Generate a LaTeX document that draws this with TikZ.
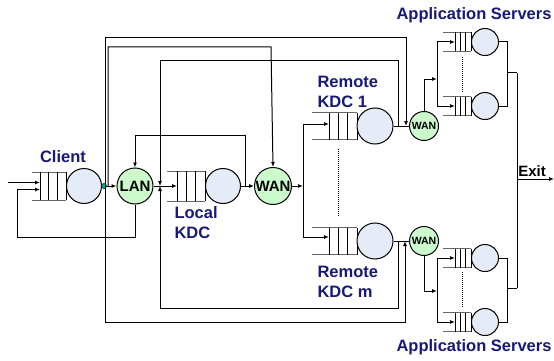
\documentclass[tikz,border=0pt]{standalone}
\usepackage{fontspec}
\setmainfont{Liberation Sans}
\usetikzlibrary{arrows.meta}
\definecolor{srvfill}{RGB}{230,236,247}
\definecolor{netfill}{RGB}{204,250,204}
\definecolor{dotfill}{RGB}{0,176,140}
\definecolor{lblblue}{RGB}{24,24,120}
\begin{document}
\begin{tikzpicture}[x=1pt, y=-1pt, line width=1pt,
    arr/.style={-{Latex[length=5pt,width=4pt]}},
    server/.style={circle, draw, fill=srvfill, inner sep=0pt},
    net/.style={circle, draw, fill=netfill, inner sep=0pt, font=\bfseries\fontsize{15}{16}\selectfont},
    smallnet/.style={net, font=\bfseries\fontsize{10.5}{11}\selectfont},
    lbl/.style={text=lblblue, inner sep=0pt, align=left, font=\bfseries\fontsize{16.5}{20}\selectfont},
    qline/.style={draw=black!60},
    dots/.style={line width=0.8pt, dash pattern=on 1pt off 1pt}]
    \useasboundingbox (0,0) rectangle (554,361);
    % queues: name/open end/box left/box right/centre y/half height
    \foreach \n/\o/\a/\b/\y/\h in {cq/32/40/66/186/14, lq/167/177/205/186/15,
        k1q/312/329/357/126/13.5, kmq/312/329/357/241/13.5,
        a1q/443/455/471/42/9.5, a2q/443/455/471/106/9.5,
        a3q/443/455/471/258/9.5, a4q/443/455/471/322/9.5} {
        \draw[qline] (\o,\y-\h) -- (\b,\y-\h) (\o,\y+\h) -- (\b,\y+\h);
        \foreach \k in {0,...,3}
            \draw ({\a+\k*(\b-\a)/3},\y-\h) -- ++(0,2*\h);
        \coordinate (\n) at (\a,\y);
    }
    % servers
    \node[server, minimum size=35pt] (client) at (84,186) {};
    \node[server, minimum size=35pt] (lkdc) at (223,186) {};
    \node[server, minimum size=36pt] (kdc1) at (375,126) {};
    \node[server, minimum size=36pt] (kdcm) at (375,241) {};
    \foreach \n/\y in {a1/42, a2/106, a3/258, a4/322}
        \node[server, minimum size=27pt] (\n) at (485,\y) {};
    % networks
    \node[net, minimum size=36pt] (lan) at (135,186) {LAN};
    \node[net, minimum size=37pt] (wan) at (273,186) {WAN};
    \node[smallnet, minimum size=29pt] (wan1) at (424,126) {WAN};
    \node[smallnet, minimum size=29pt] (wanm) at (424,241) {WAN};
    \node[circle, draw, fill=dotfill, line width=0.5pt, inner sep=0pt, minimum size=5pt] (cdot) at (104,186) {};
    \coordinate (jct) at (160,186);
    \coordinate (src) at (8,182.5);
    \coordinate (exit) at (554,179);
    % labels
    \node[lbl] (clientlbl) at (63,157) {Client};
    \node[lbl, anchor=west] (lkdclbl) at (174,223) {Local\\KDC};
    \node[lbl, anchor=west] (kdc1lbl) at (317,92) {Remote\\KDC 1};
    \node[lbl, anchor=west] (kdcmlbl) at (317,282) {Remote\\KDC m};
    \node[lbl] (apptop) at (474,15) {Application Servers};
    \node[lbl] (appbot) at (474,347) {Application Servers};
    \node[inner sep=0pt, font=\bfseries\fontsize{15}{16}\selectfont] (exitlbl) at (532,171) {Exit};
    % client side
    \draw[arr] (src) -- ([yshift=3.5pt]cq);
    \draw[arr] (lan.south) |- (17,237) |- ([yshift=-3.5pt]cq);
    \draw (client.east) -- (cdot);
    \draw[arr] (cdot) -- (lan.west);
    \draw (lan.east) -- (jct);
    \draw[arr] (jct) -- (lq);
    \draw[arr] (lkdc.east) -- (wan.west);
    \draw[arr] ([xshift=4pt]lkdc.east) |- (135,135) -- (lan.north);
    % long lines from the client and the LAN
    \draw[arr] ([xshift=1pt]cdot.center) |- (406,38) -- ([xshift=-3pt]wan1.west);
    \draw[arr] ([xshift=1pt]cdot.center) |- (405,322) -- ([xshift=-4pt]wanm.west);
    \draw[arr] ([xshift=4pt]cdot.center) |- (271,47) -- (wan.north);
    \draw[{Latex[length=5pt,width=4pt]}-] (jct) |- (398,61) -- (398,126);
    \draw[{Latex[length=5pt,width=4pt]}-] (jct) |- (398,308) -- (398,241);
    % remote KDCs
    \draw[arr] (wan.east) -- (303,186) coordinate (wsplit);
    \draw[arr] (wsplit) |- ([yshift=2pt]k1q);
    \draw[arr] (wsplit) |- ([yshift=4pt]kmq);
    \draw[dots] (338,149) -- (338,217);
    \draw (kdc1.east) -- (wan1.west);
    \draw (kdcm.east) -- (wanm.west);
    % application servers
    \draw[arr] (wan1.north) |- (437,79) coordinate (as1);
    \draw[arr] (as1) |- (a1q);
    \draw[arr] (as1) |- (a2q);
    \draw[arr] (wanm.south) |- (437,291) coordinate (as2);
    \draw[arr] (as2) |- (a3q);
    \draw[arr] (as2) |- (a4q);
    \draw[dots] (462,57) -- (462,92);
    \draw[dots] (462,272) -- (462,307);
    \draw (a1.east) -| (507,73) -- (517,73) coordinate (ex1);
    \draw (a2.east) -| (507,73);
    \draw (a3.east) -| (507,288) -- (517,288) coordinate (ex2);
    \draw (a4.east) -| (507,288);
    \draw (ex1) -- (ex2);
    \draw[arr] (ex1 |- exit) -- (exit);
\end{tikzpicture}
\end{document}
